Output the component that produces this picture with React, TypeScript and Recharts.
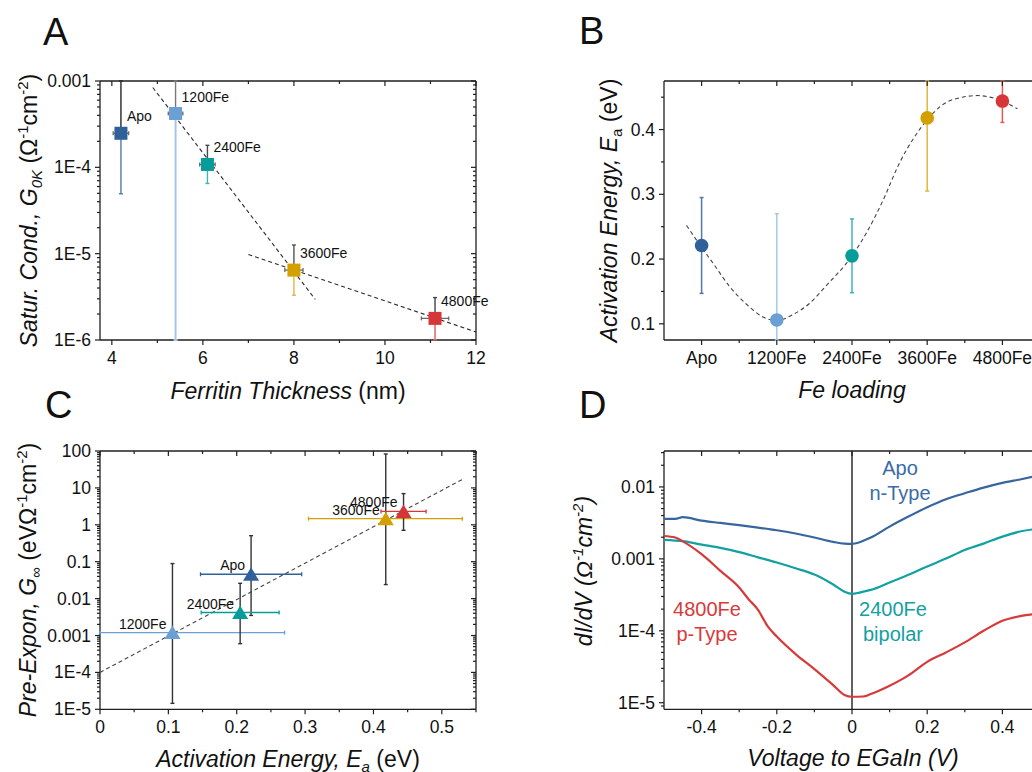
import React from 'react';
import { ComposedChart, Scatter, Line, XAxis, YAxis, ErrorBar, ReferenceLine } from 'recharts';

const FONT = '"Liberation Sans", Arial, Helvetica, sans-serif';
const INK = '#1f1f1f';
const TICK_FS = 17.5;

// ---------- shared sample info ----------
const samples = ['Apo', '1200Fe', '2400Fe', '3600Fe', '4800Fe'];
const colors = ['#2F6099', '#6C9FD3', '#079C99', '#D4A000', '#D63636'];
const paleColors = ['#5379AB', '#A6C6E6', '#3FB7B4', '#E2B642', '#E25A5A'];
const darkErrColors = ['#262626', '#7a7a7a', '#4a4a4a', '#555555', '#444444'];

// ---------- Panel A: saturation conductance vs thickness ----------
const thickness = [4.2, 5.4, 6.1, 8.0, 11.1];
const thicknessErr = [0.17, 0.16, 0.17, 0.2, 0.3];
const g0k = [2.48e-4, 4.2e-4, 1.08e-4, 6.45e-6, 1.78e-6];
const g0kHigh = [3e-3, 5e-3, 1.8e-4, 1.26e-5, 3.1e-6];
const g0kLow = [4.94e-5, 5e-7, 6.5e-5, 3.3e-6, 1.0e-6];
const fitA1X = [4.9, 8.47];
const fitA1Y = [8.4e-4, 2.95e-6];
const fitA2X = [7.0, 12.0];
const fitA2Y = [9.8e-6, 1.24e-6];
const aXTicks = [4, 5, 6, 7, 8, 9, 10, 11, 12];
const aXMajors = [4, 6, 8, 10, 12];
const aXLabels = ['4', '6', '8', '10', '12'];
const aYMajors = [1e-6, 1e-5, 1e-4, 1e-3];
const aYLabels = ['1E-6', '1E-5', '1E-4', '0.001'];

// ---------- Panel B: activation energy vs Fe loading ----------
const ea = [0.221, 0.106, 0.205, 0.418, 0.444];
const eaHigh = [0.295, 0.27, 0.262, 0.53, 0.477];
const eaLow = [0.147, -0.058, 0.148, 0.305, 0.411];
const fitBX = [-0.2, 0, 0.15, 0.37, 0.59, 0.81, 1.0, 1.21, 1.43, 1.65, 2.0, 2.19, 2.41, 2.63, 2.85, 3.0, 3.2, 3.47, 3.67, 3.87, 4.0, 4.2];
const fitBY = [0.252, 0.218, 0.194, 0.158, 0.131, 0.111, 0.105, 0.114, 0.131, 0.158, 0.205, 0.24, 0.29, 0.348, 0.392, 0.415, 0.438, 0.45, 0.4525, 0.449, 0.444, 0.432];
const bXTicks = [0, 0.5, 1, 1.5, 2, 2.5, 3, 3.5, 4, 4.5];
const bXMajors = [0, 1, 2, 3, 4];
const bYTicks = [0.1, 0.15, 0.2, 0.25, 0.3, 0.35, 0.4, 0.45];
const bYMajors = [0.1, 0.2, 0.3, 0.4];
const bYLabels = ['0.1', '0.2', '0.3', '0.4'];

// ---------- Panel C: pre-exponential vs activation energy ----------
const gInf = [0.0457, 1.2e-3, 4.2e-3, 1.47, 2.3];
const gInfHigh = [0.507, 0.089, 0.026, 83, 7.0];
const gInfLow = [3.5e-3, 1.45e-5, 6.0e-4, 0.024, 0.71];
const fitCX = [0, 0.53];
const fitCY = [1e-4, 17];
const cXTicks = [0, 0.05, 0.1, 0.15, 0.2, 0.25, 0.3, 0.35, 0.4, 0.45, 0.5, 0.55];
const cXMajors = [0, 0.1, 0.2, 0.3, 0.4, 0.5];
const cXLabels = ['0', '0.1', '0.2', '0.3', '0.4', '0.5'];
const cYMajors = [1e-5, 1e-4, 1e-3, 1e-2, 0.1, 1, 10, 100];
const cYLabels = ['1E-5', '1E-4', '0.001', '0.01', '0.1', '1', '10', '100'];

// ---------- Panel D: dI/dV vs voltage ----------
const apoV = [-0.5, -0.47, -0.45, -0.4, -0.35, -0.3, -0.25, -0.2, -0.15, -0.1, -0.05, -0.02, 0, 0.02, 0.05, 0.1, 0.15, 0.2, 0.25, 0.3, 0.35, 0.4, 0.45, 0.5];
const apoG = [3.6e-3, 3.6e-3, 3.8e-3, 3.4e-3, 3.16e-3, 2.94e-3, 2.72e-3, 2.5e-3, 2.25e-3, 1.98e-3, 1.72e-3, 1.63e-3, 1.62e-3, 1.7e-3, 1.98e-3, 2.81e-3, 3.87e-3, 5.22e-3, 6.74e-3, 8.17e-3, 9.8e-3, 1.14e-2, 1.28e-2, 1.45e-2];
const bipV = [-0.5, -0.45, -0.4, -0.35, -0.3, -0.25, -0.2, -0.15, -0.1, -0.05, -0.02, 0, 0.02, 0.05, 0.1, 0.15, 0.2, 0.25, 0.3, 0.35, 0.4, 0.45, 0.5];
const bipG = [1.84e-3, 1.76e-3, 1.58e-3, 1.42e-3, 1.24e-3, 1.05e-3, 8.9e-4, 7.4e-4, 6.05e-4, 4.4e-4, 3.5e-4, 3.27e-4, 3.4e-4, 3.7e-4, 4.69e-4, 6.0e-4, 7.83e-4, 1.01e-3, 1.33e-3, 1.63e-3, 2.04e-3, 2.42e-3, 2.64e-3];
const pV = [-0.5, -0.47, -0.45, -0.4, -0.35, -0.3, -0.275, -0.25, -0.225, -0.2, -0.15, -0.1, -0.05, -0.02, 0, 0.03, 0.05, 0.1, 0.15, 0.2, 0.25, 0.3, 0.35, 0.4, 0.45, 0.5];
const pG = [2.08e-3, 1.98e-3, 1.75e-3, 1.16e-3, 6.8e-4, 4.0e-4, 2.75e-4, 1.96e-4, 1.17e-4, 8.3e-5, 4.74e-5, 2.94e-5, 1.76e-5, 1.28e-5, 1.21e-5, 1.22e-5, 1.32e-5, 1.72e-5, 2.4e-5, 3.7e-5, 5.0e-5, 6.9e-5, 1.0e-4, 1.38e-4, 1.61e-4, 1.74e-4];
const dLineColors = ['#37659E', '#13A0A0', '#D73A3A'];
const dXTicks = [-0.4, -0.3, -0.2, -0.1, 0, 0.1, 0.2, 0.3, 0.4, 0.5];
const dXMajors = [-0.4, -0.2, 0, 0.2, 0.4];
const dXLabels = ['-0.4', '-0.2', '0', '0.2', '0.4'];
const dYMajors = [1e-5, 1e-4, 1e-3, 1e-2];
const dYLabels = ['1E-5', '1E-4', '0.001', '0.01'];

// ---------- helpers ----------
const near = (a: number, b: number) => Math.abs(a - b) <= Math.max(Math.abs(a), Math.abs(b)) * 1e-6 + 1e-12;
const clamp = (v: number, d: [number, number]) => Math.min(Math.max(v, d[0]), d[1]);

const logTicks = (majors: number[], lo: number, hi: number) => {
  const out: number[] = [];
  [majors[0] / 10, ...majors].forEach((m) => {
    for (let k = 1; k < 10; k++) {
      const v = m * k;
      if (v >= lo * (1 - 1e-9) && v <= hi * (1 + 1e-9)) out.push(v);
    }
  });
  return out;
};

const tickText = { fontFamily: FONT, fontSize: TICK_FS, fill: '#111' };

type Geom = { left: number; right: number; top: number; bottom: number };

// bottom axis tick: outward tick at the bottom, mirrored inward tick at the top frame
function makeXTick(g: Geom, majors: number[], labels: string[]) {
  return (props: any) => {
    const x = props.x;
    const v = Number(props.payload?.value);
    const idx = majors.findIndex((m) => near(m, v));
    const len = idx >= 0 ? 5 : 3;
    return (
      <g>
        <line x1={x} y1={g.bottom} x2={x} y2={g.bottom + len} stroke={INK} strokeWidth={1.2} />
        <line x1={x} y1={g.top} x2={x} y2={g.top + len} stroke={INK} strokeWidth={1.2} />
        {idx >= 0 && (
          <text x={x} y={g.bottom + 24} textAnchor="middle" {...tickText}>{labels[idx]}</text>
        )}
      </g>
    );
  };
}

// left axis tick: outward tick at the left, mirrored inward tick at the right frame
function makeYTick(g: Geom, majors: number[], labels: string[]) {
  return (props: any) => {
    const y = props.y;
    const v = Number(props.payload?.value);
    const idx = majors.findIndex((m) => near(m, v));
    const len = idx >= 0 ? 5 : 3;
    return (
      <g>
        <line x1={g.left} y1={y} x2={g.left - len} y2={y} stroke={INK} strokeWidth={1.2} />
        <line x1={g.right} y1={y} x2={g.right - len} y2={y} stroke={INK} strokeWidth={1.2} />
        {idx >= 0 && (
          <text x={g.left - 9} y={y + 6} textAnchor="end" {...tickText}>{labels[idx]}</text>
        )}
      </g>
    );
  };
}

type FrameCfg = {
  geom: Geom;
  xDomain: [number, number];
  yDomain: [number, number];
  xTicks: number[];
  yTicks: number[];
  xMajors: number[];
  yMajors: number[];
  xLabels: string[];
  yLabels: string[];
  yLog?: boolean;
};

function frameAxes(c: FrameCfg) {
  const ys: any = c.yLog ? 'log' : 'linear';
  const edge = { stroke: INK, strokeWidth: 1.3, ifOverflow: 'visible' as const, xAxisId: 'b', yAxisId: 'l' };
  return [
    <XAxis key="xb" xAxisId="b" orientation="bottom" type="number" dataKey="x" domain={c.xDomain} allowDataOverflow
      ticks={c.xTicks} interval={0} tickLine={false} tickSize={0} tickMargin={0} axisLine={false} height={30}
      tick={makeXTick(c.geom, c.xMajors, c.xLabels)} />,
    <YAxis key="yl" yAxisId="l" orientation="left" type="number" dataKey="y" scale={ys} domain={c.yDomain} allowDataOverflow
      ticks={c.yTicks} interval={0} tickLine={false} tickSize={0} tickMargin={0} axisLine={false} width={60}
      tick={makeYTick(c.geom, c.yMajors, c.yLabels)} />,
    <XAxis key="xh" xAxisId="h" hide type="number" dataKey="x" domain={c.xDomain} />,
    <YAxis key="yh" yAxisId="h" hide type="number" dataKey="y" scale={ys} domain={c.yDomain} />,
    <ReferenceLine key="f1" x={c.xDomain[0]} {...edge} />,
    <ReferenceLine key="f2" x={c.xDomain[1]} {...edge} />,
    <ReferenceLine key="f3" y={c.yDomain[0]} {...edge} />,
    <ReferenceLine key="f4" y={c.yDomain[1]} {...edge} />,
  ];
}

const squareShape = (fill: string) => (p: any) => (
  <rect x={p.cx - 6.5} y={p.cy - 6.5} width={13} height={13} fill={fill} />
);
const circleShape = (fill: string) => (p: any) => <circle cx={p.cx} cy={p.cy} r={6.8} fill={fill} />;
const triangleShape = (fill: string) => (p: any) => (
  <polygon points={`${p.cx},${p.cy - 7} ${p.cx - 8},${p.cy + 6.5} ${p.cx + 8},${p.cy + 6.5}`} fill={fill} />
);
const nameOf = (p: any) => p?.payload?.name ?? p?.name ?? '';
const labelRightUp = (p: any) => (
  <text x={p.cx + 6} y={p.cy - 12} fontSize={14} fontFamily={FONT} fill="#111">{nameOf(p)}</text>
);
const labelLeftUp = (p: any) => (
  <text x={p.cx - 6} y={p.cy - 4} fontSize={14} fontFamily={FONT} fill="#111" textAnchor="end">{nameOf(p)}</text>
);

const xy = (xs: number[], ys: number[]) => xs.map((x, i) => ({ x, y: ys[i] }));
const dashed = { stroke: '#2a2a2a', strokeWidth: 1.1, strokeDasharray: '4 3' };

// ---------- panels ----------
const cfgA: FrameCfg = {
  geom: { left: 100, right: 476, top: 81, bottom: 340 },
  xDomain: [3.74, 12], yDomain: [1e-6, 1e-3], xTicks: aXTicks, yTicks: logTicks(aYMajors, 1e-6, 1e-3),
  xMajors: aXMajors, yMajors: aYMajors, xLabels: aXLabels, yLabels: aYLabels, yLog: true,
};
const cfgB: FrameCfg = {
  geom: { left: 148, right: 524, top: 81, bottom: 340 },
  xDomain: [-0.5, 4.5], yDomain: [0.075, 0.475], xTicks: bXTicks, yTicks: bYTicks,
  xMajors: bXMajors, yMajors: bYMajors, xLabels: samples, yLabels: bYLabels,
};
const cfgC: FrameCfg = {
  geom: { left: 100, right: 476, top: 65, bottom: 323.3 },
  xDomain: [0, 0.55], yDomain: [1e-5, 100], xTicks: cXTicks, yTicks: logTicks(cYMajors, 1e-5, 100),
  xMajors: cXMajors, yMajors: cYMajors, xLabels: cXLabels, yLabels: cYLabels, yLog: true,
};
const cfgD: FrameCfg = {
  geom: { left: 148, right: 524, top: 65, bottom: 323.3 },
  xDomain: [-0.5, 0.5], yDomain: [8.1e-6, 0.0316], xTicks: dXTicks, yTicks: logTicks(dYMajors, 8.1e-6, 0.0316),
  xMajors: dXMajors, yMajors: dYMajors, xLabels: dXLabels, yLabels: dYLabels, yLog: true,
};

function PanelA() {
  const d = cfgA.yDomain;
  const pts = samples.map((name, i) => ({
    name,
    x: thickness[i],
    y: g0k[i],
    ex: thicknessErr[i],
    eHi: [0, clamp(g0kHigh[i], d) - g0k[i]],
    eLo: [g0k[i] - clamp(g0kLow[i], d), 0],
  }));
  return (
    <ComposedChart width={516} height={386} margin={{ top: 81, right: 40, bottom: 16, left: 40 }}>
      {frameAxes(cfgA)}
      <Line xAxisId="b" yAxisId="l" data={xy(fitA1X, fitA1Y)} dataKey="y" type="linear" {...dashed} dot={false} activeDot={false} isAnimationActive={false} />
      <Line xAxisId="b" yAxisId="l" data={xy(fitA2X, fitA2Y)} dataKey="y" type="linear" {...dashed} dot={false} activeDot={false} isAnimationActive={false} />
      {pts.map((p, i) => (
        <Scatter key={p.name} xAxisId="b" yAxisId="l" data={[p]} dataKey="y" isAnimationActive={false} shape={squareShape(colors[i])}>
          <ErrorBar dataKey="eHi" direction="y" width={2} stroke={darkErrColors[i]} strokeWidth={1.4} isAnimationActive={false} />
          <ErrorBar dataKey="eLo" direction="y" width={2} stroke={paleColors[i]} strokeWidth={i === 1 ? 2 : 1.4} isAnimationActive={false} />
          <ErrorBar dataKey="ex" direction="x" width={2} stroke="#6a6a6a" strokeWidth={1.3} isAnimationActive={false} />
        </Scatter>
      ))}
      <Scatter xAxisId="h" yAxisId="h" data={pts} dataKey="y" isAnimationActive={false} shape={labelRightUp} />
    </ComposedChart>
  );
}

function PanelB() {
  const d = cfgB.yDomain;
  const pts = samples.map((name, i) => ({
    name, x: i, y: ea[i], ey: [ea[i] - clamp(eaLow[i], d), clamp(eaHigh[i], d) - ea[i]],
  }));
  return (
    <ComposedChart width={530} height={386} margin={{ top: 81, right: 6, bottom: 16, left: 88 }}>
      {frameAxes(cfgB)}
      <Line xAxisId="b" yAxisId="l" data={xy(fitBX, fitBY)} dataKey="y" type="monotone" stroke="#444" strokeWidth={1.1} strokeDasharray="4 3" dot={false} activeDot={false} isAnimationActive={false} />
      {pts.map((p, i) => (
        <Scatter key={p.name} xAxisId="b" yAxisId="l" data={[p]} dataKey="y" isAnimationActive={false} shape={circleShape(colors[i])}>
          <ErrorBar dataKey="ey" direction="y" width={2} stroke={paleColors[i]} strokeWidth={1.5} isAnimationActive={false} />
        </Scatter>
      ))}
    </ComposedChart>
  );
}

function PanelC() {
  const dx = cfgC.xDomain;
  const dy = cfgC.yDomain;
  const pts = samples.map((name, i) => ({
    name,
    x: ea[i],
    y: gInf[i],
    ex: [ea[i] - clamp(eaLow[i], dx), clamp(eaHigh[i], dx) - ea[i]],
    ey: [gInf[i] - clamp(gInfLow[i], dy), clamp(gInfHigh[i], dy) - gInf[i]],
  }));
  return (
    <ComposedChart width={516} height={386} margin={{ top: 65, right: 40, bottom: 32.7, left: 40 }}>
      {frameAxes(cfgC)}
      <Line xAxisId="b" yAxisId="l" data={xy(fitCX, fitCY)} dataKey="y" type="linear" stroke="#444" strokeWidth={1.1} strokeDasharray="4 3" dot={false} activeDot={false} isAnimationActive={false} />
      {pts.map((p, i) => (
        <Scatter key={p.name} xAxisId="b" yAxisId="l" data={[p]} dataKey="y" isAnimationActive={false} shape={triangleShape(colors[i])}>
          <ErrorBar dataKey="ex" direction="x" width={2} stroke={colors[i]} strokeWidth={1.3} isAnimationActive={false} />
          <ErrorBar dataKey="ey" direction="y" width={2} stroke="#333" strokeWidth={1.4} isAnimationActive={false} />
        </Scatter>
      ))}
      <Scatter xAxisId="h" yAxisId="h" data={pts} dataKey="y" isAnimationActive={false} shape={labelLeftUp} />
    </ComposedChart>
  );
}

function PanelD() {
  const series = [xy(apoV, apoG), xy(bipV, bipG), xy(pV, pG)];
  return (
    <ComposedChart width={530} height={386} margin={{ top: 65, right: 6, bottom: 32.7, left: 88 }}>
      {frameAxes(cfgD)}
      <ReferenceLine xAxisId="b" yAxisId="l" x={0} stroke={INK} strokeWidth={1.4} />
      {series.map((d, i) => (
        <Line key={i} xAxisId="b" yAxisId="l" data={d} dataKey="y" type="monotone" stroke={dLineColors[i]} strokeWidth={2.2} dot={false} activeDot={false} isAnimationActive={false} />
      ))}
    </ComposedChart>
  );
}

// ---------- overlay text ----------
const T = { fontFamily: FONT, fill: '#111' };
const SUB = 15;

function Overlay() {
  return (
    <svg width={1032} height={772} style={{ position: 'absolute', left: 0, top: 0, pointerEvents: 'none' }}>
      <g {...T} fontSize={38}>
        <text x={43} y={45}>A</text>
        <text x={579} y={44}>B</text>
        <text x={45} y={418}>C</text>
        <text x={579} y={418}>D</text>
      </g>
      <g {...T} fontSize={23}>
        <text x={288} y={399} textAnchor="middle">
          <tspan fontStyle="italic">Ferritin Thickness</tspan>
          <tspan> (nm)</tspan>
        </text>
        <text transform="translate(37,210.5) rotate(-90)" textAnchor="middle">
          <tspan fontStyle="italic">Satur. Cond., G</tspan>
          <tspan fontStyle="italic" fontSize={SUB} dy={5}>0K</tspan>
          <tspan dy={-5}> (Ω</tspan>
          <tspan fontSize={SUB} dy={-9}>-1</tspan>
          <tspan dy={9}>cm</tspan>
          <tspan fontSize={SUB} dy={-9}>-2</tspan>
          <tspan dy={9}>)</tspan>
        </text>
        <text x={852} y={398} textAnchor="middle" fontStyle="italic">Fe loading</text>
        <text transform="translate(617,210.5) rotate(-90)" textAnchor="middle">
          <tspan fontStyle="italic">Activation Energy, E</tspan>
          <tspan fontSize={SUB} dy={5}>a</tspan>
          <tspan dy={-5}> (eV)</tspan>
        </text>
        <text x={288} y={767} textAnchor="middle">
          <tspan fontStyle="italic">Activation Energy, E</tspan>
          <tspan fontStyle="italic" fontSize={SUB} dy={5}>a</tspan>
          <tspan dy={-5}> (eV)</tspan>
        </text>
        <text transform="translate(36,580) rotate(-90)" textAnchor="middle">
          <tspan fontStyle="italic">Pre-Expon, G</tspan>
          <tspan fontStyle="italic" fontSize={SUB} dy={5}>∞</tspan>
          <tspan dy={-5}> (eVΩ</tspan>
          <tspan fontSize={SUB} dy={-9}>-1</tspan>
          <tspan dy={9}>cm</tspan>
          <tspan fontSize={SUB} dy={-9}>-2</tspan>
          <tspan dy={9}>)</tspan>
        </text>
        <text x={853} y={766} textAnchor="middle" fontStyle="italic">Voltage to EGaIn (V)</text>
        <text transform="translate(592,571) rotate(-90)" textAnchor="middle" fontStyle="italic">
          <tspan>dI/dV (Ω</tspan>
          <tspan fontSize={SUB} dy={-9}>-1</tspan>
          <tspan dy={9}>cm</tspan>
          <tspan fontSize={SUB} dy={-9}>-2</tspan>
          <tspan dy={9}>)</tspan>
        </text>
      </g>
      <g fontFamily={FONT} fontSize={20} textAnchor="middle">
        <text x={900} y={475} fill="#3A6BA8">Apo</text>
        <text x={900} y={500} fill="#3A6BA8">n-Type</text>
        <text x={707} y={616} fill="#D73A3A">4800Fe</text>
        <text x={707} y={641} fill="#D73A3A">p-Type</text>
        <text x={893} y={616} fill="#13A0A0">2400Fe</text>
        <text x={893} y={641} fill="#13A0A0">bipolar</text>
      </g>
    </svg>
  );
}

export default function App() {
  return (
    <div style={{ position: 'absolute', left: 0, top: 0, width: 1032, height: 772, overflow: 'hidden', background: '#fff' }}>
      <div style={{ position: 'absolute', left: 0, top: 0 }}><PanelA /></div>
      <div style={{ position: 'absolute', left: 516, top: 0 }}><PanelB /></div>
      <div style={{ position: 'absolute', left: 0, top: 386 }}><PanelC /></div>
      <div style={{ position: 'absolute', left: 516, top: 386 }}><PanelD /></div>
      <Overlay />
    </div>
  );
}
